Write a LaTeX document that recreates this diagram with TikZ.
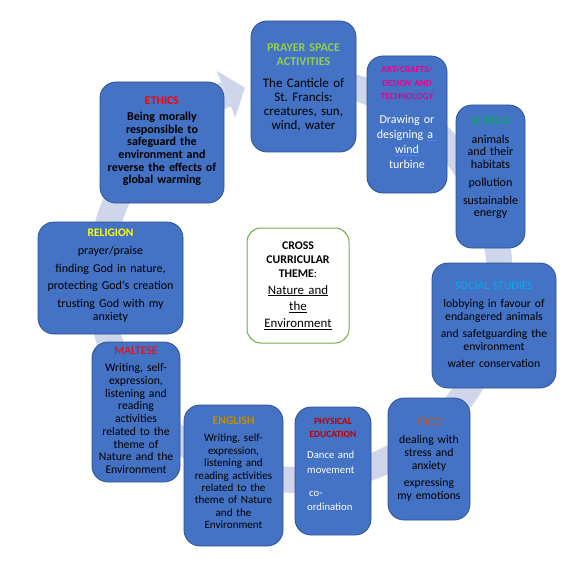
\documentclass[tikz,border=0pt]{standalone}
\usepackage{fontspec}
\setmainfont{Carlito}
\usetikzlibrary{calc}
\frenchspacing
\definecolor{boxblue}{HTML}{4472C4}
\definecolor{boxedge}{HTML}{2F528F}
\definecolor{ringc}{HTML}{CFD5EA}
\definecolor{thgreen}{HTML}{70AD47}
\definecolor{prgreen}{HTML}{92D050}
\definecolor{scgreen}{HTML}{00B050}
\definecolor{ssblue}{HTML}{00B0F0}
\definecolor{psorange}{HTML}{C55A11}
\definecolor{pered}{HTML}{C00000}
\definecolor{engold}{HTML}{BF8F00}
\definecolor{relyellow}{HTML}{FFFF00}
\definecolor{linkblue}{HTML}{4F81FF}
\begin{document}
\begin{tikzpicture}[x=1pt,y=-1pt,
  box/.style={draw=boxedge, line width=0.8pt, fill=boxblue, rounded corners=16pt, inner sep=0pt},
  thbox/.style={draw=thgreen, line width=1pt, fill=white, rounded corners=14pt, inner sep=0pt},
  txt/.style={inner sep=0pt, anchor=base, align=center},
  fs/.style n args={2}{font=\fontsize{#1}{#2}\selectfont\frenchspacing}
]
\fill[white] (0,0) rectangle (588,572);
\useasboundingbox (0,0) rectangle (588,572);

% ring arrow
\coordinate (rc) at (300,280);
\draw[ringc, line width=26pt] (rc) ++(-100:200) arc[start angle=-100, end angle=248.3, radius=200];
\coordinate (ah1) at ($(rc)+(248.3:225)$);
\coordinate (ah2) at ($(rc)+(248.3:175)$);
\coordinate (ahtip) at ($(rc)+(254:200)$);
\fill[ringc] (ah1) -- (ahtip) -- (ah2) -- cycle;

% boxes
\node[box, minimum width=105pt, minimum height=131pt] (prayer) at (303.5,86.5) {};
\node[box, minimum width=80pt, minimum height=137pt] (art) at (407,124.5) {};
\node[box, minimum width=69pt, minimum height=143pt] (science) at (490.5,176.5) {};
\node[box, minimum width=124pt, minimum height=125pt] (social) at (494,325.5) {};
\node[box, minimum width=82pt, minimum height=122pt] (pscd) at (429,459) {};
\node[box, minimum width=76pt, minimum height=128pt] (pe) at (333,471) {};
\node[box, minimum width=99pt, minimum height=141pt] (english) at (233.5,475.5) {};
\node[box, minimum width=88pt, minimum height=140pt] (maltese) at (136,412) {};
\node[box, minimum width=145pt, minimum height=112pt] (religion) at (110.5,278) {};
\node[box, minimum width=124pt, minimum height=121pt] (ethics) at (162,142.5) {};
\node[thbox, minimum width=102pt, minimum height=115pt] (theme) at (298,285.5) {};

% prayer
\node[txt, text width=100pt, text=prgreen, font=\fontsize{12}{14}\selectfont\bfseries] (prayer-h) at (303.5,52) {PRAYER SPACE\\ACTIVITIES};
\node[txt, text width=100pt, fs={13}{14}] (prayer-b) at (303.5,87.5) {The Canticle of\\St. Francis:\\creatures, sun,\\wind, water};

% art
\node[txt, text width=78pt, text=magenta, font=\fontsize{9.2}{13.3}\selectfont\bfseries] (art-h) at (407,73) {ART/CRAFTS/\\DESIGN AND\\TECHNOLOGY};
\node[txt, text width=78pt, text=white, fs={12}{15}] (art-b) at (407,124) {Drawing or\\designing {\color{linkblue}\underline{\color{white}a\ }}\\{\color{linkblue}\underline{\color{white}wind}}\\turbine};

% science
\node[txt, text width=68pt, text=scgreen, fs={11.7}{14}] (science-h) at (490.5,124.5) {SCIENCE};
\node[txt, text width=68pt, fs={12}{12.6}] (science-b) at (490.5,143) {animals\\and their\\habitats\\[6pt]pollution\\[4.6pt]sustainable\\energy};

% social studies
\node[txt, text width=120pt, text=ssblue, fs={11.7}{14}] (social-h) at (494,289) {SOCIAL STUDIES};
\node[txt, text width=120pt, fs={11.7}{13.3}] (social-b) at (494,307) {lobbying in favour of\\endangered animals\\[4pt]and safetguarding the\\environment\\[3.4pt]water conservation};

% pscd
\node[txt, text width=80pt, text=psorange, fs={11.7}{14}] (pscd-h) at (429,425.5) {PSCD};
\node[txt, text width=80pt, fs={11.7}{13}] (pscd-b) at (429,443.5) {dealing with\\stress and\\anxiety\\[4.3pt]expressing\\my emotions};

% physical education
\node[txt, text width=74pt, text=pered, font=\fontsize{9.5}{12.3}\selectfont\bfseries] (pe-h) at (333,424.7) {PHYSICAL\\EDUCATION};
\node[txt, anchor=base west, align=left, text width=62pt, text=white, fs={10.7}{14.5}] (pe-b) at (307,458.5) {Dance and\\movement\\[8.8pt]\hspace{2pt}co-\\ordination};

% english
\node[txt, text width=97pt, text=engold, font=\fontsize{11.7}{14}\selectfont\bfseries] (english-h) at (233.5,424) {ENGLISH};
\node[txt, text width=97pt, fs={11.1}{12.4}] (english-b) at (233.5,441.8) {Writing, self-\\expression,\\listening and\\reading activities\\related to the\\theme of Nature\\and the\\Environment};

% maltese
\node[txt, text width=86pt, text=red, fs={11.7}{14}] (maltese-h) at (136,354) {MALTESE};
\node[txt, text width=86pt, fs={11.7}{12.7}] (maltese-b) at (136,371.8) {Writing, self-\\expression,\\listening and\\reading\\activities\\related to the\\theme of\\Nature and the\\Environment};

% religion
\node[txt, text width=140pt, text=relyellow, font=\fontsize{11.5}{14}\selectfont\bfseries] (religion-h) at (110.5,236) {RELIGION};
\node[txt, text width=140pt, fs={12}{13.3}] (religion-b) at (110.5,254.5) {prayer/praise\\[4.7pt]finding God in nature,\\[4pt]protecting God\textquotesingle s creation\\[4.4pt]trusting God with my\\anxiety};

% ethics
\node[txt, text width=120pt, text=red, font=\fontsize{11.8}{14}\selectfont\bfseries] (ethics-h) at (162,104.5) {ETHICS};
\node[txt, text width=120pt, font=\fontsize{12}{12.66}\selectfont\bfseries] (ethics-b) at (162,120.5) {Being morally\\responsible to\\safeguard the\\environment and\\reverse the effects of\\global warming};

% theme
\node[txt, text width=100pt, fs={11.8}{14}] (theme-h) at (298,249) {\textbf{CROSS}\\\textbf{CURRICULAR}\\\textbf{THEME}:};
\node[txt, text width=100pt, fs={12.9}{16.7}] (theme-b) at (298,294.2) {\underline{Nature and}\\\underline{the}\\\underline{Environment}};
\end{tikzpicture}
\end{document}
